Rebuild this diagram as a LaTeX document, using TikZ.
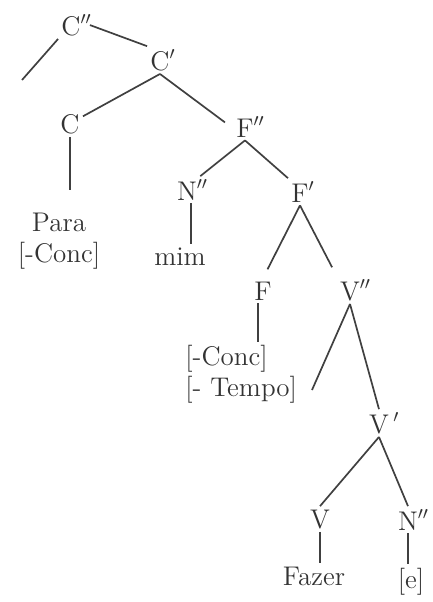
\documentclass[tikz,border=0pt]{standalone}
\usepackage{tikz}
\usetikzlibrary{positioning}

\begin{document}
\begin{tikzpicture}[
  x=0.5pt, y=-0.5pt,
  cat/.style={inner sep=1.5pt, anchor=base, font=\fontsize{13.5}{15.5}\selectfont, text=black!80},
  word/.style={inner sep=1.5pt, font=\fontsize{13.5}{15.5}\selectfont, text=black!80},
  edge/.style={draw=black!75, line width=0.85pt}
]
\useasboundingbox (0,0) rectangle (433,602);
% categories
\node[cat] (cbar2) at (71,35) {C\rlap{$''$}};
\node[cat] (cbar1) at (160,70) {C\rlap{$'$}};
\node[cat] (c) at (70,133) {C};
\node[cat] (fbar2) at (245,137) {F\rlap{$''$}};
\node[cat] (nbar2) at (187,200) {N\rlap{$''$}};
\node[cat] (fbar1) at (300,202) {F\rlap{$'$}};
\node[cat] (f) at (263,300) {F};
\node[cat] (vbar2) at (350,300) {V\rlap{$''$}};
\node[cat] (vbar1) at (379,433) {V\rlap{\,$'$}};
\node[cat] (v) at (320,528) {V};
\node[cat] (nbar2b) at (408,530) {N\rlap{$''$}};
% terminals
\node[word, anchor=north, align=center] (para) at (59,210) {Para\\{[-Conc]}};
\node[word, anchor=base] (mim) at (180,265) {mim};
\node[word, anchor=north west, align=left] (ffeat) at (182,342) {{[-Conc]}\\{[- Tempo]}};
\node[word, anchor=base] (fazer) at (314,585) {Fazer};
\node[word, anchor=base] (e) at (411,588) {{[e]}};
\coordinate (spec-c) at (22,80);
\coordinate (spec-v) at (312,390);
% branches
\draw[edge] (cbar2.south west) -- (spec-c);
\draw[edge] ([xshift=3pt]cbar2.east) -- (cbar1.north west);
\draw[edge] (cbar1.south) -- (c.30);
\draw[edge] (cbar1.south) -- ([xshift=-4pt]fbar2.160);
\draw[edge, shorten >=10pt] (c.south) -- (c.south |- para.north);
\draw[edge] (fbar2.south) -- (nbar2.north east);
\draw[edge] (fbar2.south) -- (fbar1.north west);
\draw[edge] ([xshift=2pt]nbar2.south) -- ([xshift=2pt]nbar2.south |- mim.north);
\draw[edge, shorten >=5pt] (fbar1.south) -- (f.north);
\draw[edge, shorten >=5pt] (fbar1.south) -- (vbar2.north west);
\draw[edge] ([xshift=-2.5pt]f.south) -- ([xshift=-2.5pt]f.south |- ffeat.north);
\draw[edge] (vbar2.south) -- (spec-v);
\draw[edge] (vbar2.south) -- (vbar1.north);
\draw[edge] (vbar1.south) -- (v.north);
\draw[edge] (vbar1.south) -- (nbar2b.north);
\draw[edge] (v.south) -- (v.south |- fazer.north);
\draw[edge] (nbar2b.south) -- (nbar2b.south |- e.north);
\end{tikzpicture}
\end{document}
